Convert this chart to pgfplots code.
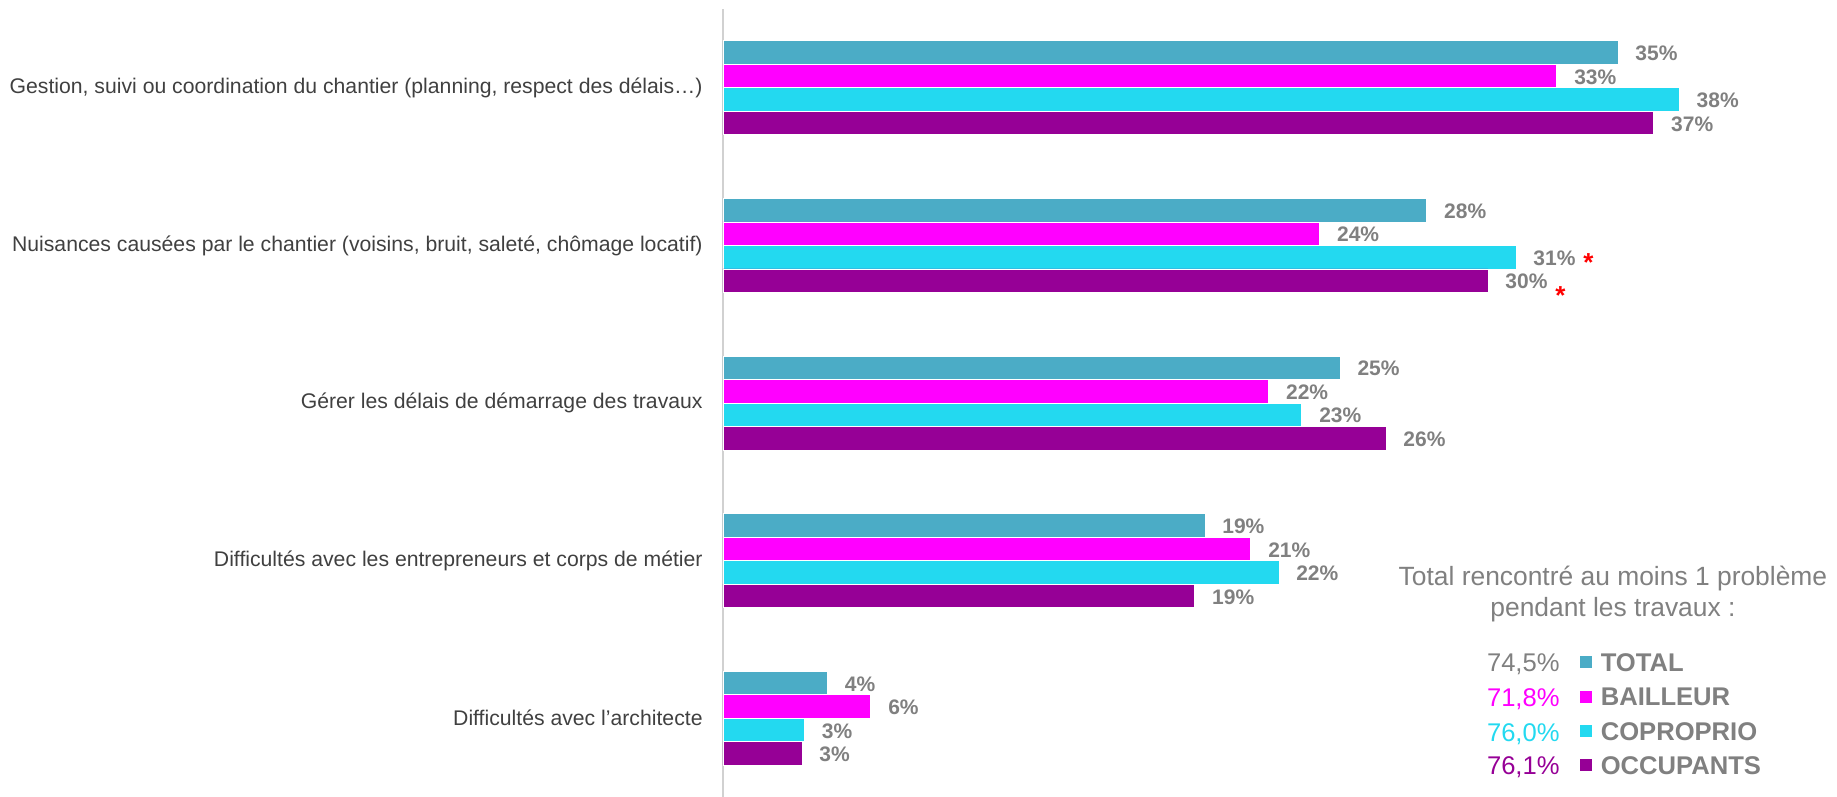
\documentclass[border=0pt]{standalone}
\usepackage{pgfplots}
\pgfplotsset{compat=1.18}
\usepackage{fontspec}
\setmainfont{Liberation Sans}
\definecolor{cTotal}{RGB}{75,172,198}
\definecolor{cBail}{RGB}{255,0,255}
\definecolor{cCopro}{RGB}{35,217,240}
\definecolor{cOcc}{RGB}{150,0,150}
\definecolor{lblgray}{RGB}{128,128,128}
\definecolor{catgray}{RGB}{64,64,64}
\protected\def\starA{\hspace{4pt}\smash{\fontsize{13}{13}\selectfont\textcolor{red}{\raisebox{-0.25em}{*}}}}
\protected\def\starB{\hspace{4pt}\smash{\fontsize{13}{13}\selectfont\textcolor{red}{\raisebox{-0.6em}{*}}}}
\begin{document}
\begin{tikzpicture}[x=1pt,y=1pt]
\useasboundingbox (0,0) rectangle (918.5,398.5);
\begin{axis}[
  at={(361.5pt,0pt)}, anchor=south west,
  scale only axis, width=510pt, height=394pt,
  xbar, bar width=11.75pt,
  xmin=0, xmax=40, ymin=-0.5, ymax=4.5, y dir=reverse,
  hide x axis, axis y line*=left,
  y axis line style={draw=black!18, line width=1pt},
  ytick={0,1,2,3,4},
  yticklabels={{Gestion, suivi ou coordination du chantier (planning, respect des délais…)},
               {Nuisances causées par le chantier (voisins, bruit, saleté, chômage locatif)},
               {Gérer les délais de démarrage des travaux},
               {Difficultés avec les entrepreneurs et corps de métier},
               {Difficultés avec l’architecte}},
  major tick length=0pt, ytick style={draw=none},
  yticklabel style={font=\fontsize{10.6}{12}\selectfont, text=catgray, inner sep=0pt, xshift=-10pt},
  clip=false,
  point meta=explicit symbolic,
  nodes near coords={\pgfplotspointmeta},
  nodes near coords style={font=\bfseries\fontsize{10.5}{12}\selectfont, text=lblgray, anchor=west, inner sep=0pt, xshift=8.5pt, yshift=-0.5pt},
  every axis plot/.append style={draw=white, line width=0.4pt},
  legend image code/.code={\fill (0pt,-3.25pt) rectangle (6.5pt,3.25pt);},
  legend style={at={(0.8392,0.183)}, anchor=north west, draw=none, fill=none,
    inner sep=0pt, outer sep=0pt, row sep=8pt, column sep=4pt,
    nodes={inner sep=0pt, text height=9.2pt, text depth=0pt},
    font=\bfseries\fontsize{12.8}{14}\selectfont, text=lblgray},
  legend cell align=left,
]
\addplot[fill=cTotal, bar shift=17.625pt]
  coordinates {(35.1,0) [35\%] (27.6,1) [28\%] (24.2,2) [25\%] (18.9,3) [19\%] (4.1,4) [4\%]};
\addplot[fill=cBail, bar shift=5.875pt]
  coordinates {(32.7,0) [33\%] (23.4,1) [24\%] (21.4,2) [22\%] (20.7,3) [21\%] (5.8,4) [6\%]};
\addplot[fill=cCopro, bar shift=-5.875pt]
  coordinates {(37.5,0) [38\%] (31.1,1) [31\%\starA] (22.7,2) [23\%] (21.8,3) [22\%] (3.2,4) [3\%]};
\addplot[fill=cOcc, bar shift=-17.625pt]
  coordinates {(36.5,0) [37\%] (30.0,1) [30\%\starB] (26.0,2) [26\%] (18.5,3) [19\%] (3.1,4) [3\%]};
\legend{TOTAL,BAILLEUR,COPROPRIO,OCCUPANTS}
\node[align=center, text=lblgray, font=\fontsize{13.2}{15.5}\selectfont, inner sep=0pt]
  at (axis description cs:0.8725,0.258) {Total rencontré au moins 1 problème\\pendant les travaux :};
\begin{scope}[every node/.style={anchor=east, inner sep=0pt, text height=9.2pt, text depth=0pt, font=\fontsize{12.8}{14}\selectfont}]
\node[text=lblgray] at (axis description cs:0.8206,0.1713) {74,5\%};
\node[text=cBail]   at (axis description cs:0.8206,0.1269) {71,8\%};
\node[text=cCopro]  at (axis description cs:0.8206,0.0825) {76,0\%};
\node[text=cOcc]    at (axis description cs:0.8206,0.0406) {76,1\%};
\end{scope}
\end{axis}
\end{tikzpicture}
\end{document}
